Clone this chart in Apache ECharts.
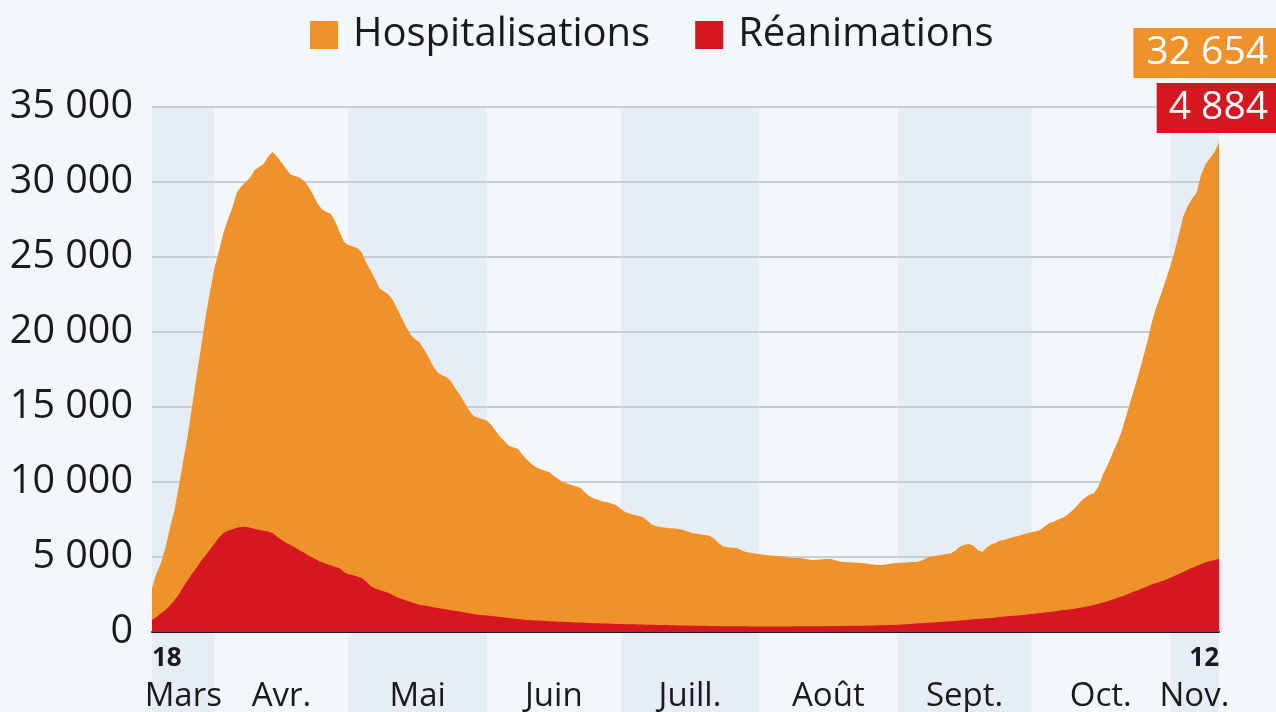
<!DOCTYPE html>
<html>
<head>
<meta charset="utf-8">
<script src="https://cdn.jsdelivr.net/npm/echarts@6/dist/echarts.min.js"></script>
<style>
html,body{margin:0;padding:0;background:#f3f6fa;}
#chart{width:1276px;height:712px;}
</style>
</head>
<body>
<div id="chart"></div>
<script>
// ---- Data ----
const startDate = '2020-03-18';
const dayCount = 240; // 18 Mar -> 12 Nov 2020
const seriesNames = ['Hospitalisations', 'Réanimations'];
const monthLabels = ['Mars', 'Avr.', 'Mai', 'Juin', 'Juill.', 'Août', 'Sept.', 'Oct.', 'Nov.'];
const yTicks = [0, 5000, 10000, 15000, 20000, 25000, 30000, 35000];

const hospitalisations = [
2930,3900,4600,5600,6900,8100,9700,11400,13100,15100,
17100,19000,21000,22700,24300,25400,26600,27500,28300,29300,
29700,30000,30300,30800,31000,31200,31700,32000,31700,31300,
30900,30500,30400,30300,30100,29700,29200,28600,28200,28000,
27900,27400,26700,26000,25800,25700,25600,25300,24600,24100,
23500,22900,22700,22500,22100,21500,20900,20300,19800,19500,
19300,18800,18300,17700,17300,17100,17000,16700,16200,15800,
15300,14800,14400,14300,14200,14100,13800,13400,13000,12700,
12400,12300,12200,11800,11500,11200,11000,10850,10750,10650,
10400,10200,10000,9900,9800,9700,9600,9300,9050,8900,
8800,8700,8650,8550,8450,8200,8000,7900,7800,7750,
7650,7400,7150,7050,7000,6950,6920,6900,6870,6800,
6700,6600,6550,6500,6470,6400,6200,5900,5700,5650,
5620,5600,5450,5330,5280,5230,5200,5150,5120,5100,
5070,5050,5000,4950,4930,4930,4900,4830,4800,4820,
4850,4870,4860,4780,4700,4670,4650,4630,4610,4600,
4560,4520,4480,4470,4490,4530,4580,4600,4620,4640,
4660,4670,4720,4850,5000,5050,5100,5150,5200,5250,
5450,5700,5820,5870,5750,5450,5340,5650,5850,5950,
6100,6150,6250,6330,6400,6500,6590,6650,6720,6800,
7050,7270,7350,7500,7610,7800,8050,8350,8700,8950,
9150,9250,9700,10500,11100,11800,12500,13200,14200,15200,
16200,17200,18300,19400,20700,21700,22500,23400,24300,25300,
26500,27700,28400,28900,29300,30500,31200,31600,32000,32654
];

const reanimations = [
800,1000,1250,1450,1750,2100,2500,3000,3450,3900,
4300,4750,5100,5500,5900,6300,6600,6750,6850,6950,
7000,7020,6950,6870,6800,6750,6700,6600,6350,6150,
5950,5800,5650,5450,5300,5100,4950,4800,4650,4550,
4450,4350,4250,4000,3850,3780,3700,3600,3350,3050,
2900,2800,2700,2600,2450,2300,2200,2100,2000,1900,
1800,1770,1720,1650,1600,1550,1500,1450,1400,1360,
1300,1250,1200,1150,1120,1100,1060,1030,1000,970,
940,900,870,830,800,790,770,760,740,720,
700,690,680,670,650,640,630,620,600,590,
580,570,560,550,540,530,520,515,510,505,
500,490,480,470,465,460,450,445,440,435,
430,425,420,415,410,405,400,395,390,390,
385,380,380,380,375,375,370,370,370,370,
370,370,375,375,380,380,380,385,385,390,
390,395,395,400,400,405,410,415,420,425,
430,435,440,445,450,460,470,480,500,520,
540,560,580,600,620,640,660,680,700,720,
740,760,790,820,850,870,890,910,940,970,
1000,1030,1060,1080,1100,1130,1170,1200,1240,1270,
1300,1330,1370,1410,1450,1480,1520,1570,1620,1680,
1740,1800,1880,1960,2050,2150,2250,2350,2450,2580,
2700,2800,2930,3050,3180,3270,3370,3470,3600,3730,
3870,4000,4150,4280,4400,4530,4650,4730,4800,4884
];

// ---- Derived ----
const colors = { hosp: '#ef922a', rea: '#d5171f', text: '#1a1a1a', band: '#e6edf6', bg: '#f3f6fa', grid: '#c9ced6' };
const FONT = '"Open Sans", "Noto Sans", sans-serif';

const dates = [];
{
  const d0 = new Date(startDate + 'T12:00:00Z');
  for (let i = 0; i < dayCount; i++) {
    const d = new Date(d0.getTime() + i * 86400000);
    dates.push(d.toISOString().slice(0, 10));
  }
}
// month start indices
const monthStarts = [0];
dates.forEach((d, i) => { if (i > 0 && d.slice(8, 10) === '01') monthStarts.push(i); });
const bands = monthStarts.map((s, k) => {
  const e = k + 1 < monthStarts.length ? monthStarts[k + 1] : dayCount - 1;
  return [s, e, k % 2 === 0 ? 1 : 0, k];
});

function fmt(v) {
  return String(Math.round(v)).replace(/\B(?=(\d{3})+(?!\d))/g, ' ');
}

const chart = echarts.init(document.getElementById('chart'), null, { renderer: 'canvas' });
const yMax = yTicks[yTicks.length - 1];

chart.setOption({
  backgroundColor: colors.bg,
  animation: false,
  textStyle: { fontFamily: FONT },
  legend: {
    left: 305,
    top: 10,
    icon: 'rect',
    itemWidth: 28,
    itemHeight: 28,
    itemGap: 45,
    data: seriesNames,
    textStyle: { fontSize: 40, color: colors.text, fontFamily: FONT, padding: [0, 0, 0, 10] },
    selectedMode: false
  },
  grid: {
    left: 152, right: 57, top: 107, bottom: 80,
    containLabel: false,
    outerBoundsMode: 'none'
  },
  xAxis: {
    type: 'category',
    data: dates,
    boundaryGap: false,
    axisLine: { show: true, lineStyle: { color: '#1a1a1a', width: 2 } },
    axisTick: { show: false },
    splitLine: { show: false },
    axisLabel: {
      interval: (i) => i === 0 || i === dayCount - 1,
      formatter: (v) => String(parseInt(v.slice(8, 10), 10)),
      fontSize: 26,
      fontWeight: 'bold',
      color: colors.text,
      fontFamily: FONT,
      margin: 14,
      alignMinLabel: 'left',
      alignMaxLabel: 'right',
      showMinLabel: true,
      showMaxLabel: true
    }
  },
  yAxis: {
    type: 'value',
    min: 0,
    max: yMax,
    interval: yTicks[1] - yTicks[0],
    axisLine: { show: false },
    axisTick: { show: false },
    splitLine: { show: true, lineStyle: { color: colors.grid, width: 2 } },
    axisLabel: {
      formatter: (v) => fmt(v),
      fontSize: 39.5,
      color: colors.text,
      fontFamily: FONT,
      margin: 19
    }
  },
  graphic: [
    {
      type: 'text', right: 0, top: 28, z: 100,
      style: {
        text: fmt(hospitalisations[hospitalisations.length - 1]),
        font: '39px ' + FONT, fill: '#ffffff',
        backgroundColor: colors.hosp, padding: [5, 8, 5, 13], lineHeight: 40
      }
    },
    {
      type: 'text', right: 0, top: 83, z: 100,
      style: {
        text: fmt(reanimations[reanimations.length - 1]),
        font: '39px ' + FONT, fill: '#ffffff',
        backgroundColor: colors.rea, padding: [5, 8, 5, 12], lineHeight: 40
      }
    }
  ],
  series: [
    {
      type: 'custom',
      name: 'bands',
      z: -1,
      silent: true,
      clip: false,
      data: bands,
      renderItem: function (params, api) {
        const s = api.value(0), e = api.value(1), shaded = api.value(2), k = api.value(3);
        const p0 = api.coord([s, yMax]);
        const p1 = api.coord([e, 0]);
        const h = api.getHeight();
        const children = [];
        if (shaded) {
          children.push({
            type: 'rect',
            shape: { x: p0[0], y: p0[1] + 1, width: p1[0] - p0[0], height: h - p0[1] },
            style: { fill: colors.band }
          });
        }
        children.push({
          type: 'text',
          style: {
            text: monthLabels[k],
            x: (p0[0] + p1[0]) / 2,
            y: p1[1] + 65,
            align: 'center',
            verticalAlign: 'middle',
            font: '33px ' + FONT,
            fill: colors.text
          }
        });
        return { type: 'group', children: children };
      }
    },
    {
      name: seriesNames[0],
      type: 'line',
      data: hospitalisations,
      showSymbol: false,
      symbol: 'none',
      sampling: null,
      itemStyle: { color: colors.hosp },
      lineStyle: { width: 0, color: colors.hosp },
      areaStyle: { color: colors.hosp, opacity: 1 },
      z: 3
    },
    {
      name: seriesNames[1],
      type: 'line',
      data: reanimations,
      showSymbol: false,
      symbol: 'none',
      itemStyle: { color: colors.rea },
      lineStyle: { width: 0, color: colors.rea },
      areaStyle: { color: colors.rea, opacity: 1 },
      z: 4
    }
  ]
});
</script>
</body>
</html>
